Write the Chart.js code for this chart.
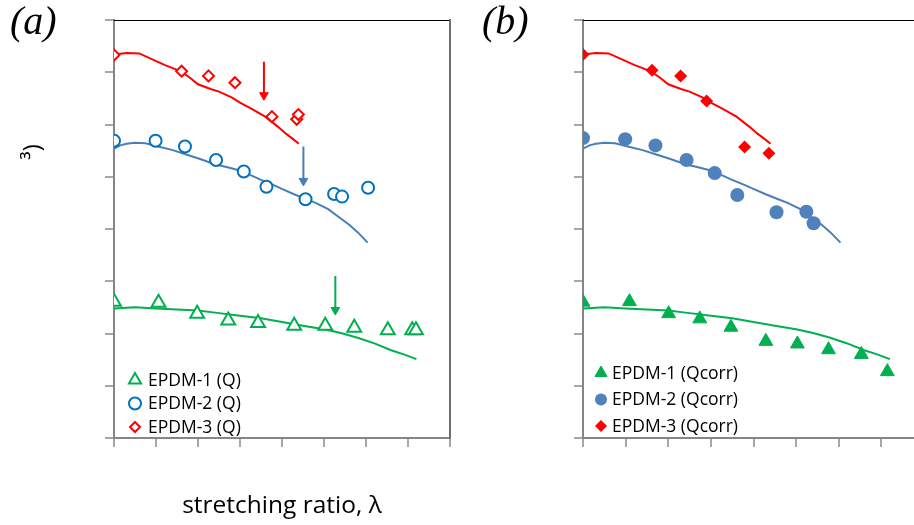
<!DOCTYPE html>
<html><head><meta charset="utf-8">
<script src="https://cdn.jsdelivr.net/npm/chart.js@4.4.1/dist/chart.umd.min.js"></script>
<style>
html,body{margin:0;padding:0;background:#fff;overflow:hidden;width:914px;height:525px;}
#wrap{position:relative;width:914px;height:525px;overflow:hidden;background:#fff;}
#ca{position:absolute;left:0;top:0;}
#cb{position:absolute;left:460px;top:0;}
</style></head><body>
<div id="wrap"><canvas id="ca" width="460" height="525"></canvas><canvas id="cb" width="480" height="525"></canvas></div>
<script>
// ---- axis ranges (no tick labels shown in the figure) ----
const X_MIN = 1, X_MAX = 9, X_STEP = 1;
const Y_MIN = 0, Y_MAX = 8, Y_STEP = 1;

// ---- measured curves (shared by both panels) ----
const redLineX  = [1.0, 1.3, 1.6, 1.9, 2.2, 2.4, 2.6, 2.8, 3.0, 3.3, 3.5, 3.8, 4.0, 4.3, 4.6, 4.9, 5.1, 5.25, 5.4];
const redLineY  = [7.34, 7.37, 7.36, 7.25, 7.14, 7.08, 7.01, 6.90, 6.77, 6.68, 6.63, 6.52, 6.42, 6.29, 6.15, 5.96, 5.82, 5.73, 5.63];
const blueLineX = [1.0, 1.15, 1.3, 1.5, 1.75, 2.05, 2.4, 2.7, 3.05, 3.4, 3.7, 3.95, 4.2, 4.5, 4.8, 5.05, 5.3, 5.55, 5.8, 6.1, 6.4, 6.6, 6.8, 7.04];
const blueLineY = [5.54, 5.60, 5.63, 5.65, 5.64, 5.58, 5.51, 5.43, 5.34, 5.24, 5.18, 5.13, 5.05, 4.94, 4.84, 4.75, 4.66, 4.58, 4.50, 4.38, 4.20, 4.08, 3.94, 3.74];
const greenLineX = [1.0, 1.5, 2.0, 2.5, 3.0, 3.5, 4.0, 4.5, 5.0, 5.5, 6.0, 6.4, 6.8, 7.2, 7.6, 7.9, 8.2];
const greenLineY = [2.48, 2.50, 2.48, 2.46, 2.44, 2.39, 2.34, 2.29, 2.22, 2.15, 2.08, 2.01, 1.92, 1.81, 1.68, 1.60, 1.51];

// ---- panel (a): Q ----
const e1QX = [1.0, 2.06, 2.98, 3.72, 4.43, 5.29, 6.03, 6.72, 7.52, 8.10, 8.19];
const e1QY = [2.61, 2.59, 2.38, 2.25, 2.20, 2.15, 2.15, 2.11, 2.06, 2.06, 2.06];
const e2QX = [1.0, 1.99, 2.69, 3.43, 4.09, 4.63, 5.56, 6.24, 6.43, 7.05];
const e2QY = [5.69, 5.69, 5.58, 5.32, 5.10, 4.81, 4.57, 4.67, 4.62, 4.79];
const e3QX = [1.0, 2.61, 3.25, 3.88, 4.76, 5.35, 5.39];
const e3QY = [7.33, 7.02, 6.93, 6.80, 6.15, 6.10, 6.19];

// arrows in panel (a): [x, top, head]
const arrowRed   = [4.57, 7.20, 6.56];
const arrowBlue  = [5.51, 5.58, 4.92];
const arrowGreen = [6.27, 3.10, 2.45];

// ---- panel (b): Qcorr ----
const e1CX = [1.0, 2.09, 3.01, 3.74, 4.47, 5.29, 6.03, 6.76, 7.53, 8.14];
const e1CY = [2.60, 2.61, 2.38, 2.28, 2.12, 1.85, 1.80, 1.69, 1.60, 1.27];
const e2CX = [1.0, 1.99, 2.70, 3.43, 4.09, 4.62, 5.54, 6.24, 6.41];
const e2CY = [5.74, 5.72, 5.60, 5.32, 5.07, 4.65, 4.32, 4.33, 4.11];
const e3CX = [1.0, 2.62, 3.29, 3.90, 4.79, 5.36];
const e3CY = [7.34, 7.04, 6.93, 6.45, 5.57, 5.45];

const labelsA = ['EPDM-1 (Q)', 'EPDM-2 (Q)', 'EPDM-3 (Q)'];
const labelsB = ['EPDM-1 (Qcorr)', 'EPDM-2 (Qcorr)', 'EPDM-3 (Qcorr)'];
const xTitle = 'stretching ratio, \u03BB';
const yTitleFragment = '\u00B3)';

const GREEN = '#00B050', BLUE_O = '#0070C0', BLUE_F = '#4F81BD', BLUE_L = '#4A7EBB', RED = '#FF0000';
const SANS = '"Open Sans", "DejaVu Sans", sans-serif';
const SERIF_IT = 'italic 40px "Liberation Serif", "Times New Roman", serif';

function pts(xs, ys) { return xs.map((x, i) => ({x: x, y: ys[i]})); }

function markerSet(label, xs, ys, style, r, fill, stroke, bw) {
  return {label, data: pts(xs, ys), showLine: false, pointStyle: style, pointRadius: r, pointHoverRadius: r,
    pointBackgroundColor: fill, pointBorderColor: stroke, pointBorderWidth: bw,
    backgroundColor: fill, borderColor: stroke, clip: 0};
}
function lineSet(xs, ys, color) {
  return {label: '', data: pts(xs, ys), showLine: true, pointRadius: 0, pointHoverRadius: 0,
    borderColor: color, backgroundColor: color, borderWidth: 2, tension: 0, fill: false, clip: 0};
}
function arrowSet(a, color) {
  return {label: '', data: [{x: a[0], y: a[1]}, {x: a[0], y: a[2]}], showLine: true,
    pointRadius: [0, 5], pointHoverRadius: [0, 5], pointStyle: 'triangle', rotation: 180,
    pointBackgroundColor: color, pointBorderColor: color, pointBorderWidth: 1,
    borderColor: color, backgroundColor: color, borderWidth: 2, clip: 0};
}

function drawMarker(ctx, style, x, y, r, fill, stroke, bw) {
  ctx.save();
  ctx.beginPath();
  if (style === 'triangle') {
    for (let k = 0; k < 3; k++) {
      const a = k * 2 * Math.PI / 3;
      const px = x + Math.sin(a) * r, py = y - Math.cos(a) * r;
      if (k === 0) ctx.moveTo(px, py); else ctx.lineTo(px, py);
    }
    ctx.closePath();
  } else if (style === 'circle') {
    ctx.arc(x, y, r, 0, Math.PI * 2);
  } else {
    ctx.moveTo(x - r, y); ctx.lineTo(x, y - r); ctx.lineTo(x + r, y); ctx.lineTo(x, y + r); ctx.closePath();
  }
  ctx.fillStyle = fill; ctx.fill();
  if (bw > 0) { ctx.lineWidth = bw; ctx.strokeStyle = stroke; ctx.stroke(); }
  ctx.restore();
}

const insideLegend = {
  id: 'insideLegend',
  afterDraw(chart, args, opts) {
    const ctx = chart.ctx;
    opts.entries.forEach((di, k) => {
      const ds = chart.data.datasets[di];
      const y = opts.y + k * opts.dy;
      drawMarker(ctx, ds.pointStyle, opts.markerX, y, opts.radii[k], ds.pointBackgroundColor, ds.pointBorderColor, ds.pointBorderWidth);
      ctx.save();
      ctx.font = opts.font; ctx.fillStyle = '#000'; ctx.textAlign = 'left'; ctx.textBaseline = 'middle';
      ctx.fillText(ds.label, opts.textX, y + 1);
      ctx.restore();
    });
  }
};

const textLabels = {
  id: 'textLabels',
  afterDraw(chart, args, opts) {
    const ctx = chart.ctx;
    (opts.items || []).forEach(t => {
      ctx.save();
      ctx.translate(t.x, t.y);
      if (t.rotate) ctx.rotate(t.rotate);
      ctx.font = t.font; ctx.fillStyle = t.color || '#000';
      ctx.textAlign = t.align || 'left'; ctx.textBaseline = t.baseline || 'alphabetic';
      ctx.fillText(t.text, 0, 0);
      ctx.restore();
    });
  }
};

function scalesFor(showTitle, showRight) {
  const tickGrid = {drawOnChartArea: false, drawTicks: true, tickLength: 9, color: '#a8a8a8', lineWidth: 2};
  const axisBorder = {display: true, color: '#868686', width: 2};
  return {
    x: {type: 'linear', position: 'bottom', min: X_MIN, max: X_MAX,
        ticks: {display: false, stepSize: X_STEP}, grid: tickGrid, border: axisBorder,
        title: showTitle ? {display: true, text: xTitle, color: '#000',
               font: {family: SANS, size: 24.5, lineHeight: 1.2}, padding: {top: 44, bottom: 0}} : {display: false}},
    y: {type: 'linear', position: 'left', min: Y_MIN, max: Y_MAX,
        ticks: {display: false, stepSize: Y_STEP}, grid: tickGrid, border: axisBorder},
    x2: {type: 'linear', position: 'top', display: true, min: X_MIN, max: X_MAX,
         ticks: {display: false}, grid: {display: false, drawTicks: false}, border: {display: true, color: '#000', width: 1}},
    y2: {type: 'linear', position: 'right', display: true, min: Y_MIN, max: Y_MAX,
         ticks: {display: false}, grid: {display: false, drawTicks: false},
         border: {display: showRight, color: '#6e6e6e', width: 2}}
  };
}

const baseOpts = {responsive: false, animation: false, devicePixelRatio: 1,
  plugins: {legend: {display: false}, tooltip: {enabled: false}}};

// ---- Chart A ----
new Chart(document.getElementById('ca'), {
  type: 'scatter',
  data: {datasets: [
    markerSet(labelsA[0], e1QX, e1QY, 'triangle', 8, '#fff', GREEN, 2),
    markerSet(labelsA[1], e2QX, e2QY, 'circle', 6, '#fff', BLUE_O, 2),
    markerSet(labelsA[2], e3QX, e3QY, 'rectRot', 5.5, '#fff', RED, 2),
    arrowSet(arrowRed, RED), arrowSet(arrowBlue, BLUE_L), arrowSet(arrowGreen, GREEN),
    lineSet(redLineX, redLineY, RED), lineSet(blueLineX, blueLineY, BLUE_L), lineSet(greenLineX, greenLineY, GREEN)
  ]},
  options: Object.assign({}, baseOpts, {
    layout: {padding: {left: 105, top: 20, right: 5, bottom: 4.6}},
    scales: scalesFor(true, true),
    plugins: Object.assign({}, baseOpts.plugins, {
      insideLegend: {entries: [0, 1, 2], markerX: 135, textX: 148, y: 380, dy: 23.5, radii: [7, 6, 5],
                     font: '17.5px ' + SANS},
      textLabels: {items: [
        {text: '(a)', x: 10, y: 34, font: SERIF_IT},
        {text: yTitleFragment, x: 40, y: 152, rotate: -Math.PI / 2, align: 'center', font: '24px ' + SANS}
      ]}
    })
  }),
  plugins: [insideLegend, textLabels]
});

// ---- Chart B ----
new Chart(document.getElementById('cb'), {
  type: 'scatter',
  data: {datasets: [
    markerSet(labelsB[0], e1CX, e1CY, 'triangle', 8, GREEN, GREEN, 1),
    markerSet(labelsB[1], e2CX, e2CY, 'circle', 7, BLUE_F, BLUE_F, 0),
    markerSet(labelsB[2], e3CX, e3CY, 'rectRot', 6.5, RED, RED, 0),
    lineSet(redLineX, redLineY, RED), lineSet(blueLineX, blueLineY, BLUE_L), lineSet(greenLineX, greenLineY, GREEN)
  ]},
  options: Object.assign({}, baseOpts, {
    layout: {padding: {left: 114, top: 20, right: 16, bottom: 78}},
    scales: scalesFor(false, false),
    plugins: Object.assign({}, baseOpts.plugins, {
      insideLegend: {entries: [0, 1, 2], markerX: 141, textX: 152, y: 373, dy: 26.5, radii: [7, 6, 6],
                     font: '17.5px ' + SANS},
      textLabels: {items: [
        {text: '(b)', x: 22, y: 34, font: SERIF_IT}
      ]}
    })
  }),
  plugins: [insideLegend, textLabels]
});
</script>
</body></html>
